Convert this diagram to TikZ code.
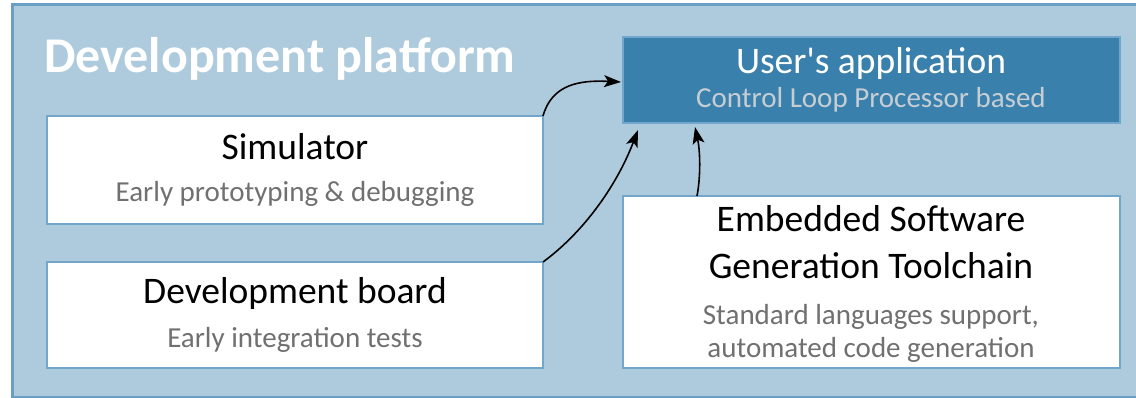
\documentclass[tikz,border=0pt]{standalone}
\usepackage{fontspec}
\setmainfont{Carlito}[Ligatures=TeXOff]
\usetikzlibrary{arrows.meta}
\definecolor{platfill}{HTML}{AECBDD}
\definecolor{platline}{HTML}{6A9EC3}
\definecolor{boxline}{HTML}{72A7CC}
\definecolor{userfill}{HTML}{3A80AC}
\definecolor{subgray}{HTML}{707070}
\definecolor{usersub}{HTML}{C6CED4}
\tikzset{
  wbox/.style={draw=boxline, line width=2pt, fill=white},
  ubox/.style={draw=boxline, line width=1.5pt, fill=userfill},
  ttl/.style={anchor=base, font=\fontsize{37.5}{44}\selectfont, text=black, inner sep=0pt},
  sub/.style={anchor=base, font=\fontsize{29}{34}\selectfont, text=subgray, inner sep=0pt},
  conn/.style={-{Stealth[length=17pt,width=12pt,inset=4pt]}, line width=1.6pt, black}
}
\begin{document}
\begin{tikzpicture}[x=1pt,y=-1pt]
\useasboundingbox (0,0) rectangle (1136,398);
\fill[platfill] (12,5) rectangle (1150,397);
\draw[platline, line width=3pt] (1150,5) -- (12,5) -- (12,397) -- (1150,397);
\node[anchor=base west, inner sep=0pt, text=white, font=\bfseries\fontsize{50}{58}\selectfont] (title) at (44,73) {Development platform};

\draw[ubox] (623,37) rectangle (1120,123);
\node[inner sep=0pt, minimum width=497pt, minimum height=86pt] (user) at (871.5,80) {};
\node[ttl, text=white] (usert) at (871,74) {User's application};
\node[sub, text=usersub] (users) at (871,108) {Control Loop Processor based};

\draw[wbox] (47,116) rectangle (543,224);
\node[inner sep=0pt, minimum width=496pt, minimum height=108pt] (sim) at (295,170) {};
\node[ttl] (simt) at (295,160) {Simulator};
\node[sub] (sims) at (295,202) {Early prototyping \& debugging};

\draw[wbox] (47,262) rectangle (543,368);
\node[inner sep=0pt, minimum width=496pt, minimum height=106pt] (dev) at (295,315) {};
\node[ttl] (devt) at (295,304) {Development board};
\node[sub] (devs) at (295,347) {Early integration tests};

\draw[wbox] (623,196) rectangle (1120,368);
\node[inner sep=0pt, minimum width=497pt, minimum height=172pt] (emb) at (871.5,282) {};
\node[ttl] (embt1) at (871,232) {Embedded Software};
\node[ttl] (embt2) at (871,279) {Generation Toolchain};
\node[sub] (embs1) at (871,324) {Standard languages support,};
\node[sub] (embs2) at (871,357) {automated code generation};

\coordinate (a1) at (543,116);
\coordinate (b1) at (621,82);
\coordinate (a2) at (543,262);
\coordinate (b2) at (638,130);
\coordinate (a3) at (697,196);
\coordinate (b3) at (695,127);
\draw[conn] (a1) .. controls (552,84) and (580,80) .. (b1);
\draw[conn] (a2) .. controls (580,235) and (615,190) .. (b2);
\draw[conn] (a3) .. controls (701,175) and (700,150) .. (b3);
\end{tikzpicture}
\end{document}
